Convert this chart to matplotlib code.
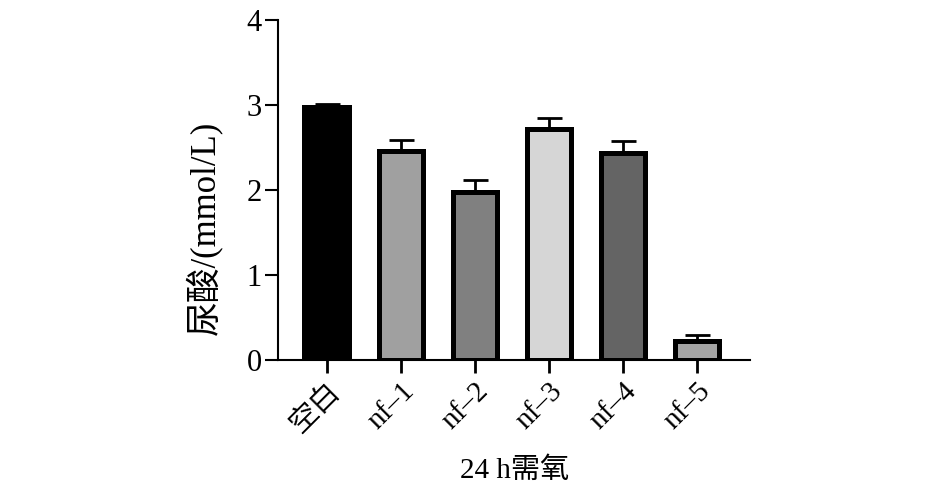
import matplotlib.pyplot as plt

# Данные
groups = ['空白', 'nf–1', 'nf–2', 'nf–3', 'nf–4', 'nf–5']
uric_acid = [2.97, 2.46, 1.97, 2.72, 2.43, 0.23]   # ммоль/л
errors = [0.04, 0.13, 0.15, 0.12, 0.15, 0.07]
colors = ['#000000', '#a0a0a0', '#808080', '#d6d6d6', '#646464', '#a4a4a4']

plt.rcParams['font.family'] = ['Liberation Serif', 'Noto Sans CJK SC']
plt.rcParams['axes.unicode_minus'] = False


def main():
    fig = plt.figure(figsize=(9.45, 4.94), dpi=100)
    ax = fig.add_axes([0.294, 0.271, 0.500, 0.689])

    x = range(len(groups))
    # Планки погрешностей только вверх
    ax.errorbar(x, uric_acid, yerr=[[0] * len(errors), errors], fmt='none',
                ecolor='black', elinewidth=2, capsize=9, capthick=2, zorder=1)
    ax.bar(x, uric_acid, width=0.6, color=colors, edgecolor='black',
           linewidth=3.6, zorder=2)

    ax.set_xlim(-0.66, 5.72)
    ax.set_ylim(0, 4)
    ax.set_yticks([0, 1, 2, 3, 4])
    ax.set_xticks(list(x))
    ax.set_xticklabels(groups, rotation=45, ha='right', va='top',
                       rotation_mode='anchor', fontsize=21)
    ax.tick_params(axis='y', labelsize=22, length=9.5, width=1.5, pad=2)
    ax.tick_params(axis='x', length=9, width=2, pad=4)

    for side in ['top', 'right']:
        ax.spines[side].set_visible(False)
    for side in ['left', 'bottom']:
        ax.spines[side].set_linewidth(1.5)

    ax.set_ylabel('尿酸/(mmol/L)', fontsize=25)
    ax.yaxis.set_label_coords(-0.117, 0.388)
    ax.set_xlabel('24 h需氧', fontsize=21, labelpad=14)

    fig.savefig('out.png', dpi=100)


if __name__ == '__main__':
    main()
